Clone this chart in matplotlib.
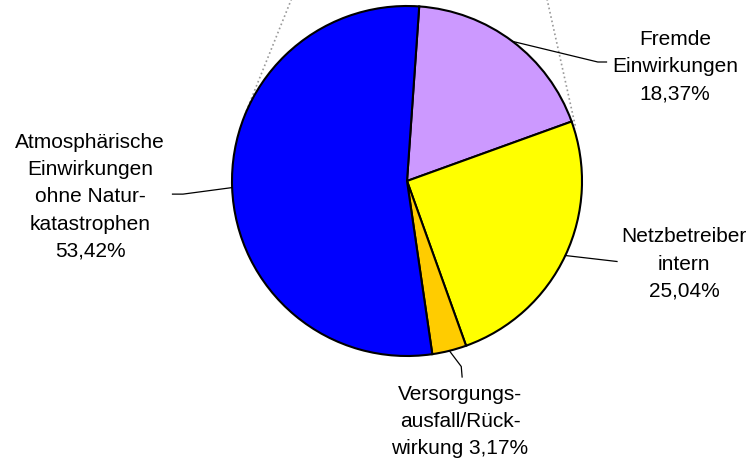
import matplotlib.pyplot as plt
import numpy as np

plt.rcParams['font.family'] = ['Liberation Sans', 'DejaVu Sans']

labels = ["Fremde\nEinwirkungen\n18,37%",
          "Netzbetreiber\nintern\n25,04%",
          "Versorgungs-\nausfall/Rück-\nwirkung 3,17%",
          "Atmosphärische\nEinwirkungen\nohne Natur-\nkatastrophen\n53,42%"]
shares = [18.37, 25.04, 3.17, 53.42]
colors = ["#CC99FF", "#FFFF00", "#FFCC00", "#0000FF"]

# label centre positions (pie radius = 1, centre = 0,0)
label_pos = [(1.531, 0.655), (1.583, -0.475), (0.303, -1.375), (-1.811, -0.09)]
# elbow points of leader lines
elbows = [[(1.09, 0.68), (1.14, 0.68)],
          [(1.20, -0.46)],
          [(0.31, -1.06), (0.315, -1.12)],
          [(-1.28, -0.075), (-1.34, -0.075)]]

fig = plt.figure(figsize=(7.52, 4.65), dpi=100)
ax = fig.add_axes([0, 0, 1, 1])
scale = 175.0

start = 86
wedges, _ = ax.pie(shares, colors=colors, startangle=start, counterclock=False,
                   radius=1, wedgeprops=dict(edgecolor="black", linewidth=1.5),
                   frame=True)
ax.set_xlim(-407 / scale, (752 - 407) / scale)
ax.set_ylim(-(465 - 181) / scale, 181 / scale)
ax.axis("off")

# dotted connector remnants at the top
ax.plot([-0.66, -0.93], [1.04, 0.37], ls=":", color="#999999", lw=1.2, zorder=0)
ax.plot([0.80, 0.965], [1.04, 0.30], ls=":", color="#999999", lw=1.2, zorder=3)

cum = np.cumsum([0] + shares)
for i, lab in enumerate(labels):
    mid = np.deg2rad(start - 3.6 * (cum[i] + shares[i] / 2))
    pts = [(np.cos(mid), np.sin(mid))] + elbows[i]
    xs, ys = zip(*pts)
    ax.plot(xs, ys, color="black", lw=0.9, zorder=4)
    ax.text(label_pos[i][0], label_pos[i][1], lab, ha="center", va="center",
            fontsize=15, linespacing=1.55)

fig.savefig("out.png", dpi=100)
